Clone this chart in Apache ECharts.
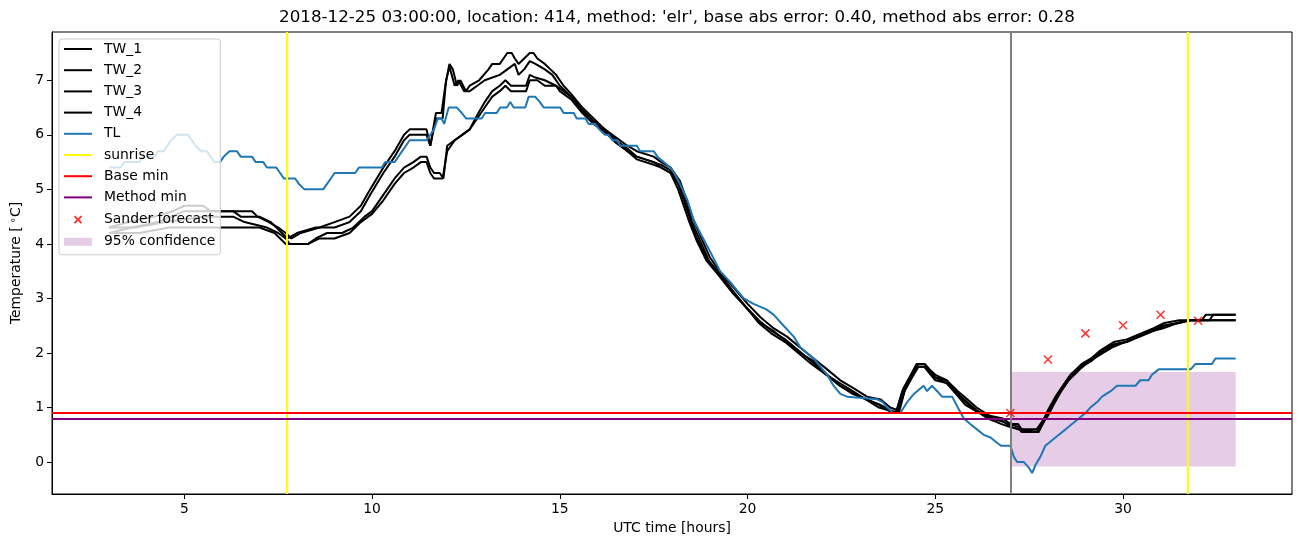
<!DOCTYPE html>
<html><head><meta charset="utf-8">
<script src="https://cdn.jsdelivr.net/npm/echarts@6/dist/echarts.min.js"></script>
<style>html,body{margin:0;padding:0;background:#fff}#c{width:1302px;height:547px}</style>
</head><body><div id="c"></div><script>
// ---- data (time in UTC hours, temperature in °C) ----
const tw1 = [[3.0,4.3],[3.5,4.4],[4.2,4.5],[4.7,4.6],[5.0,4.7],[5.5,4.7],[5.7,4.6],[6.8,4.6],[6.95,4.5],[7.25,4.4],[7.5,4.3],[7.7,4.2],[7.85,4.1],[8.1,4.2],[8.6,4.3],[9.0,4.4],[9.4,4.5],[9.7,4.7],[9.95,5.0],[10.3,5.4],[10.6,5.7],[10.85,6.0],[11.0,6.1],[11.45,6.1],[11.55,5.8],[11.7,6.4],[11.85,6.4],[11.95,6.9],[12.06,7.3],[12.15,7.2],[12.26,6.9],[12.35,7.0],[12.5,6.8],[12.6,6.9],[12.85,7.0],[13.1,7.2],[13.2,7.3],[13.4,7.3],[13.5,7.4],[13.6,7.5],[13.72,7.5],[13.8,7.4],[13.9,7.3],[14.05,7.4],[14.2,7.5],[14.3,7.5],[14.4,7.4],[14.6,7.3],[14.75,7.2],[14.9,7.1],[15.1,6.9],[15.3,6.75],[15.6,6.5],[15.9,6.3],[16.2,6.1],[16.5,5.95],[16.8,5.8],[17.05,5.7],[17.5,5.6],[17.7,5.5],[17.95,5.4],[18.2,5.15],[18.38,4.8],[18.52,4.5],[18.74,4.15],[19.0,3.75],[19.3,3.45],[19.63,3.2],[20.0,2.9],[20.35,2.65],[20.7,2.45],[21.05,2.3],[21.4,2.1],[21.76,1.9],[22.12,1.7],[22.47,1.5],[22.83,1.35],[23.18,1.2],[23.54,1.15],[23.8,1.0],[24.0,0.95],[24.03,0.9],[24.2,1.35],[24.4,1.6],[24.55,1.8],[24.72,1.8],[24.85,1.7],[25.0,1.6],[25.3,1.5],[25.6,1.3],[25.85,1.15],[26.1,1.0],[26.45,0.85],[26.8,0.8],[27.0,0.7],[27.2,0.7],[27.3,0.6],[27.7,0.6],[27.9,0.8],[28.0,0.95],[28.2,1.2],[28.4,1.4],[28.6,1.6],[28.9,1.8],[29.15,1.9],[29.4,2.05],[29.75,2.2],[30.1,2.25],[30.45,2.35],[30.8,2.45],[31.1,2.55],[31.5,2.6],[32.1,2.6],[32.2,2.7],[33.0,2.7]];
const tw2 = [[3.0,4.2],[3.6,4.3],[4.3,4.4],[5.0,4.6],[5.6,4.6],[6.3,4.6],[6.5,4.5],[7.0,4.5],[7.3,4.4],[7.6,4.2],[7.75,4.1],[8.0,4.2],[8.5,4.3],[9.0,4.3],[9.4,4.4],[9.7,4.6],[9.95,4.9],[10.3,5.3],[10.6,5.6],[10.85,5.9],[11.0,6.0],[11.45,6.0],[11.55,5.8],[11.7,6.3],[11.88,6.3],[11.97,7.0],[12.06,7.25],[12.2,6.9],[12.3,7.0],[12.45,6.8],[12.6,6.8],[12.8,6.9],[13.0,7.0],[13.4,7.1],[13.6,7.2],[13.8,7.3],[13.9,7.1],[14.05,7.2],[14.2,7.35],[14.35,7.3],[14.6,7.2],[14.8,7.1],[15.0,6.9],[15.3,6.7],[15.6,6.45],[15.9,6.25],[16.2,6.05],[16.5,5.9],[16.8,5.75],[17.05,5.6],[17.5,5.5],[17.7,5.45],[17.95,5.35],[18.2,5.05],[18.38,4.7],[18.52,4.4],[18.74,4.05],[19.0,3.65],[19.3,3.4],[19.63,3.1],[20.0,2.8],[20.35,2.55],[20.7,2.4],[21.05,2.2],[21.4,2.0],[21.76,1.85],[22.12,1.6],[22.47,1.4],[22.83,1.25],[23.18,1.15],[23.54,1.05],[23.8,0.95],[24.0,0.9],[24.18,1.3],[24.38,1.55],[24.55,1.75],[24.72,1.75],[24.85,1.65],[25.0,1.55],[25.3,1.45],[25.6,1.25],[25.85,1.1],[26.1,0.95],[26.45,0.8],[26.8,0.75],[27.0,0.65],[27.2,0.6],[27.7,0.55],[27.9,0.75],[28.0,0.9],[28.2,1.15],[28.4,1.35],[28.6,1.55],[28.9,1.75],[29.15,1.85],[29.4,2.0],[29.75,2.15],[30.1,2.2],[30.45,2.3],[30.8,2.4],[31.1,2.5],[31.5,2.55],[31.8,2.6],[33.0,2.6]];
const tw3 = [[3.0,4.3],[3.7,4.3],[4.5,4.4],[5.5,4.5],[6.3,4.5],[6.6,4.4],[7.2,4.3],[7.5,4.2],[7.7,4.1],[7.8,4.0],[8.3,4.0],[8.5,4.1],[8.8,4.2],[9.2,4.2],[9.5,4.3],[9.8,4.5],[10.0,4.6],[10.3,4.9],[10.6,5.2],[10.85,5.4],[11.1,5.5],[11.3,5.6],[11.45,5.6],[11.55,5.4],[11.65,5.3],[11.8,5.3],[11.9,5.2],[12.0,5.8],[12.2,5.9],[12.4,6.0],[12.6,6.1],[12.75,6.3],[13.0,6.6],[13.2,6.8],[13.4,6.9],[13.55,7.0],[13.7,6.9],[14.1,6.9],[14.2,7.1],[14.35,7.05],[14.6,7.0],[14.9,6.9],[15.0,6.85],[15.3,6.7],[15.6,6.45],[15.9,6.25],[16.2,6.1],[16.5,5.9],[16.8,5.7],[17.05,5.6],[17.5,5.5],[17.7,5.4],[17.95,5.3],[18.15,5.1],[18.3,4.8],[18.45,4.5],[18.65,4.1],[18.9,3.75],[19.2,3.5],[19.6,3.15],[19.95,2.85],[20.3,2.6],[20.65,2.4],[21.0,2.25],[21.35,2.05],[21.7,1.85],[22.1,1.6],[22.45,1.45],[22.8,1.3],[23.15,1.15],[23.5,1.05],[23.75,0.95],[23.95,0.9],[24.15,1.35],[24.35,1.6],[24.5,1.8],[24.7,1.8],[24.82,1.7],[25.0,1.55],[25.3,1.5],[25.55,1.3],[25.8,1.1],[26.05,0.95],[26.4,0.85],[26.75,0.75],[26.95,0.7],[27.2,0.65],[27.3,0.55],[27.75,0.55],[27.9,0.8],[28.0,0.9],[28.15,1.1],[28.35,1.35],[28.55,1.55],[28.85,1.75],[29.1,1.85],[29.35,2.0],[29.7,2.15],[30.05,2.2],[30.4,2.3],[30.75,2.4],[31.05,2.5],[31.45,2.55],[31.75,2.6],[32.3,2.6],[32.4,2.7],[33.0,2.7]];
const tw4 = [[3.0,4.2],[3.8,4.2],[4.6,4.3],[5.5,4.3],[6.4,4.3],[7.0,4.3],[7.4,4.2],[7.7,4.0],[8.3,4.0],[8.6,4.1],[9.0,4.1],[9.4,4.2],[9.7,4.4],[10.0,4.55],[10.3,4.8],[10.6,5.1],[10.85,5.3],[11.1,5.4],[11.3,5.5],[11.45,5.5],[11.55,5.3],[11.65,5.2],[11.88,5.2],[12.0,5.7],[12.2,5.9],[12.4,6.0],[12.6,6.1],[12.8,6.3],[13.0,6.5],[13.2,6.7],[13.4,6.8],[13.55,6.9],[13.7,6.8],[14.1,6.8],[14.2,7.0],[14.4,7.0],[14.6,6.9],[14.9,6.9],[15.0,6.8],[15.3,6.65],[15.6,6.4],[15.9,6.2],[16.2,6.05],[16.5,5.85],[16.8,5.7],[17.05,5.55],[17.5,5.45],[17.7,5.4],[17.95,5.3],[18.15,5.0],[18.3,4.7],[18.45,4.4],[18.65,4.05],[18.9,3.7],[19.2,3.45],[19.6,3.1],[19.95,2.85],[20.3,2.55],[20.65,2.35],[21.0,2.2],[21.35,2.0],[21.7,1.8],[22.1,1.6],[22.45,1.4],[22.8,1.25],[23.15,1.15],[23.5,1.0],[23.75,0.95],[23.95,0.9],[24.12,1.3],[24.32,1.55],[24.5,1.75],[24.7,1.75],[24.82,1.65],[25.0,1.5],[25.3,1.45],[25.55,1.25],[25.8,1.05],[26.05,0.95],[26.4,0.8],[26.75,0.7],[26.95,0.65],[27.3,0.6],[27.75,0.55],[27.9,0.75],[28.0,0.85],[28.15,1.05],[28.35,1.3],[28.55,1.5],[28.85,1.7],[29.1,1.85],[29.35,1.95],[29.7,2.1],[30.05,2.2],[30.4,2.3],[30.75,2.4],[31.05,2.45],[31.45,2.55],[31.75,2.6],[33.0,2.6]];
const tl = [[3.0,5.4],[3.3,5.4],[3.4,5.5],[3.8,5.5],[3.9,5.6],[4.2,5.6],[4.3,5.7],[4.45,5.7],[4.55,5.8],[4.65,5.9],[4.8,6.0],[5.1,6.0],[5.2,5.9],[5.3,5.8],[5.45,5.7],[5.6,5.7],[5.7,5.6],[5.8,5.5],[5.95,5.5],[6.05,5.6],[6.2,5.7],[6.4,5.7],[6.5,5.6],[6.8,5.6],[6.9,5.5],[7.1,5.5],[7.2,5.4],[7.45,5.4],[7.55,5.3],[7.65,5.2],[7.95,5.2],[8.05,5.1],[8.2,5.0],[8.7,5.0],[8.8,5.1],[8.9,5.2],[9.0,5.3],[9.55,5.3],[9.65,5.4],[10.26,5.4],[10.35,5.5],[10.6,5.5],[10.7,5.6],[10.8,5.7],[10.9,5.8],[11.0,5.9],[11.45,5.9],[11.55,6.0],[11.65,6.1],[11.75,6.3],[11.85,6.3],[11.92,6.2],[12.04,6.5],[12.26,6.5],[12.39,6.4],[12.5,6.3],[12.92,6.3],[13.01,6.4],[13.32,6.4],[13.41,6.5],[13.59,6.5],[13.68,6.6],[13.77,6.5],[14.08,6.5],[14.17,6.7],[14.34,6.7],[14.47,6.6],[14.57,6.5],[15.01,6.5],[15.1,6.4],[15.37,6.4],[15.45,6.3],[15.68,6.3],[15.77,6.2],[15.94,6.2],[16.05,6.1],[16.2,6.0],[16.3,6.0],[16.4,5.9],[16.52,5.9],[16.61,5.8],[17.05,5.8],[17.14,5.7],[17.5,5.7],[17.6,5.6],[17.77,5.5],[17.94,5.4],[18.05,5.3],[18.2,5.1],[18.4,4.8],[18.56,4.45],[18.74,4.2],[19.01,3.85],[19.27,3.5],[19.54,3.3],[19.72,3.15],[19.9,3.0],[20.16,2.9],[20.5,2.8],[20.7,2.7],[20.96,2.5],[21.23,2.3],[21.41,2.1],[21.76,1.9],[22.12,1.6],[22.29,1.4],[22.47,1.25],[22.65,1.2],[23.45,1.15],[23.6,1.1],[23.72,1.0],[23.89,0.9],[24.07,0.9],[24.25,1.1],[24.43,1.25],[24.6,1.35],[24.69,1.4],[24.78,1.3],[24.91,1.4],[25.05,1.3],[25.18,1.2],[25.45,1.2],[25.6,1.0],[25.76,0.8],[25.93,0.7],[26.11,0.6],[26.29,0.5],[26.47,0.45],[26.65,0.35],[26.75,0.3],[27.0,0.3],[27.09,0.1],[27.18,0.0],[27.36,0.0],[27.49,-0.1],[27.58,-0.2],[27.67,-0.05],[27.8,0.1],[27.93,0.3],[28.11,0.4],[28.29,0.5],[28.47,0.6],[28.64,0.7],[28.82,0.8],[29.0,0.9],[29.13,1.0],[29.31,1.1],[29.44,1.2],[29.67,1.3],[29.84,1.4],[30.33,1.4],[30.46,1.5],[30.68,1.5],[30.77,1.6],[30.95,1.7],[31.8,1.7],[31.93,1.8],[32.37,1.8],[32.46,1.9],[33.0,1.9]];
const sanderTime = [27, 28, 29, 30, 31, 32];
const sanderTemp = [0.9, 1.88, 2.36, 2.51, 2.7, 2.59];
const sunriseTimes = [7.72, 31.73];
const forecastTime = [27];
const baseMin = [0.9];
const methodMin = [0.8];
const confTime = [27, 33];
const confTemp = [-0.08, 1.65];
const xTicks = [5, 10, 15, 20, 25, 30];
const yTicks = [0, 1, 2, 3, 4, 5, 6, 7];
const xRange = [1.475, 34.5];
const yRange = [-0.585, 7.885];
const titleText = "2018-12-25 03:00:00, location: 414, method: 'elr', base abs error: 0.40, method abs error: 0.28";

const FONT = 'DejaVu Sans';
const FS = 13.9;
const chart = echarts.init(document.getElementById('c'), null, {renderer: 'canvas'});
const lineSeries = (name, data, color) => ({
  name, type: 'line', data, symbol: 'none', showSymbol: false,
  lineStyle: {color, width: 2}, itemStyle: {color},
  emphasis: {disabled: true}, animation: false, silent: true
});
const markOnly = (name, color, mlData) => ({
  name, type: 'line', data: [], symbol: 'none',
  lineStyle: {color, width: 2}, itemStyle: {color},
  markLine: {silent: true, symbol: ['none', 'none'], label: {show: false},
    lineStyle: {color, width: 2, type: 'solid'}, emphasis: {disabled: true},
    data: mlData, animation: false},
  animation: false
});
const markerX = 'path://M0,0L10,10M10,0L0,10';
const legendX = 'path://M0,0M16,16M4,4L12,12M12,4L4,12';
const legendLine = 'path://M0,0M28,14M0,6L28,6L28,8L0,8Z';
const legendRect = 'path://M0,0M28,14M0,3L28,3L28,11L0,11Z';
const lineItem = name => ({name, icon: legendLine});

chart.setOption({
  animation: false,
  backgroundColor: '#fff',
  textStyle: {fontFamily: FONT},
  title: {text: titleText, left: 672, top: 4, textAlign: 'center',
    textStyle: {fontFamily: FONT, fontSize: 16.7, fontWeight: 'normal', color: '#000'}},
  grid: {left: 52, right: 10, top: 32, bottom: 53, show: true, borderColor: '#000', borderWidth: 1, backgroundColor: 'transparent'},
  legend: {
    orient: 'vertical', left: 59, top: 39, itemWidth: 28, itemHeight: 14, itemGap: 7.2,
    padding: [3, 5, 6, 5], backgroundColor: 'rgba(255,255,255,0.8)', borderColor: '#cccccc',
    borderWidth: 1, borderRadius: 3, selectedMode: false,
    textStyle: {fontFamily: FONT, fontSize: FS, color: '#000', lineHeight: 14, padding: [0, 0, 0, 7]},
    data: ['TW_1', 'TW_2', 'TW_3', 'TW_4', 'TL', 'sunrise', 'Base min', 'Method min'].map(lineItem).concat([
      {name: 'Sander forecast', icon: legendX},
      {name: '95% confidence', icon: legendRect}])
  },
  xAxis: {
    type: 'value', min: xRange[0], max: xRange[1],
    name: 'UTC time [hours]', nameLocation: 'middle', nameGap: 27,
    nameTextStyle: {fontFamily: FONT, fontSize: FS, color: '#000'},
    axisLine: {show: true, onZero: false, lineStyle: {color: '#000', width: 1}},
    axisTick: {show: true, length: 5, customValues: xTicks, lineStyle: {color: '#000'}},
    axisLabel: {customValues: xTicks, fontFamily: FONT, fontSize: FS, color: '#000', margin: 8},
    splitLine: {show: false}
  },
  yAxis: {
    type: 'value', min: yRange[0], max: yRange[1],
    name: 'Temperature [{s|∘}C]', nameLocation: 'middle', nameGap: 28,
    nameTextStyle: {fontFamily: FONT, fontSize: FS, color: '#000',
      rich: {s: {fontFamily: FONT, fontSize: 10, color: '#000', padding: [0, 0, 6, 3]}}},
    axisLine: {show: true, onZero: false, lineStyle: {color: '#000', width: 1}},
    axisTick: {show: true, length: 5, customValues: yTicks, lineStyle: {color: '#000'}},
    axisLabel: {customValues: yTicks, fontFamily: FONT, fontSize: FS, color: '#000', margin: 8},
    splitLine: {show: false}
  },
  series: [
    {
      name: '95% confidence', type: 'line', data: [], symbol: 'none',
      lineStyle: {color: 'rgba(128,0,128,0.2)'}, itemStyle: {color: 'rgba(128,0,128,0.2)'},
      markArea: {silent: true, itemStyle: {color: 'rgba(128,0,128,0.2)'}, label: {show: false},
        data: [[{xAxis: confTime[0], yAxis: confTemp[1]}, {xAxis: confTime[1], yAxis: confTemp[0]}]]},
      animation: false
    },
    lineSeries('TW_1', tw1, '#000000'),
    lineSeries('TW_2', tw2, '#000000'),
    lineSeries('TW_3', tw3, '#000000'),
    lineSeries('TW_4', tw4, '#000000'),
    lineSeries('TL', tl, '#1f77b4'),
    markOnly('sunrise', '#ffff00', sunriseTimes.map(v => ({xAxis: v}))),
    markOnly('Base min', '#ff0000', baseMin.map(v => ({yAxis: v}))),
    markOnly('Method min', '#800080', methodMin.map(v => ({yAxis: v}))),
    markOnly('forecast time', '#808080', forecastTime.map(v => ({xAxis: v}))),
    {
      name: 'Sander forecast', type: 'scatter',
      data: sanderTime.map((t, i) => [t, sanderTemp[i]]),
      symbol: markerX, symbolSize: 8,
      itemStyle: {color: 'rgba(0,0,0,0)', borderColor: '#ff0000', borderWidth: 1.5},
      emphasis: {disabled: true}, silent: true, animation: false, z: 5
    }
  ]
});
</script></body></html>
